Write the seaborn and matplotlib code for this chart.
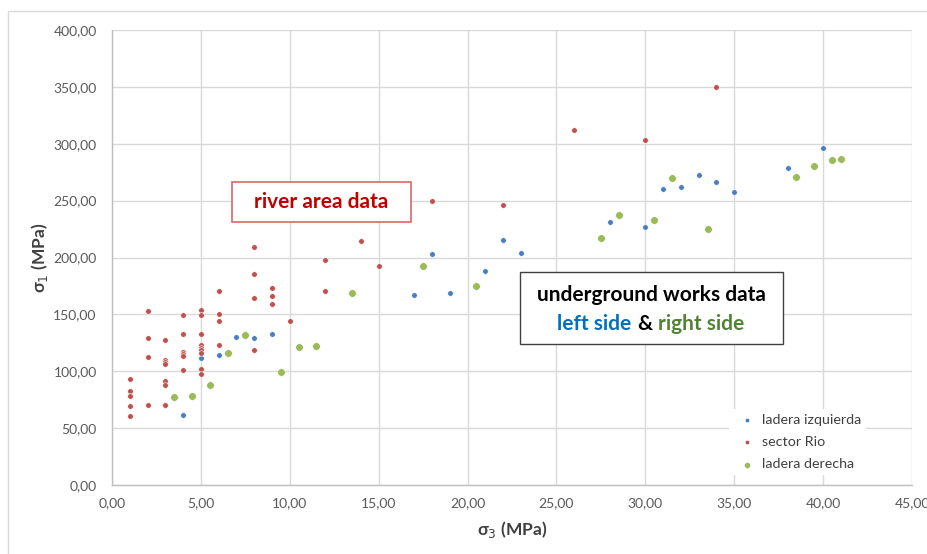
import matplotlib
matplotlib.use("Agg")
import matplotlib.pyplot as plt
import matplotlib.ticker as mticker
from matplotlib.patches import Rectangle
import numpy as np
import pandas as pd
import seaborn as sns

# ---------------- data ----------------
izq_s3 = [4.0, 5.0, 6.0, 7.0, 8.0, 9.0, 17.0, 18.0, 19.0, 21.0, 22.0, 23.0,
          28.0, 30.0, 31.0, 32.0, 33.0, 34.0, 35.0, 38.0, 40.0]
izq_s1 = [61.5, 111.4, 114.6, 130.4, 129.5, 132.7, 166.8, 202.8, 168.8, 187.9, 215.4, 204.0,
          231.2, 227.1, 260.0, 262.0, 272.5, 266.4, 257.9, 279.0, 296.0]

rio_s3 = [1.0, 1.0, 1.0, 1.0, 1.0,
          2.0, 2.0, 2.0, 2.0,
          3.0, 3.0, 3.0, 3.0, 3.0, 3.0, 3.0, 3.0,
          4.0, 4.0, 4.0, 4.0, 4.0, 4.0,
          5.0, 5.0, 5.0, 5.0, 5.0, 5.0, 5.0, 5.0, 5.0,
          6.0, 6.0, 6.0, 6.0,
          8.0, 8.0, 8.0, 8.0,
          9.0, 9.0, 9.0, 10.0,
          12.0, 12.0, 14.0, 15.0, 18.0, 22.0, 26.0, 30.0, 34.0]
rio_s1 = [93.5, 82.9, 78.5, 69.2, 60.7,
          152.7, 129.5, 112.5, 70.0,
          127.5, 110.0, 108.0, 106.6, 91.4, 87.9, 70.0, 70.0,
          149.7, 132.7, 117.0, 115.0, 113.7, 101.0,
          153.8, 149.5, 132.7, 122.8, 120.4, 118.4, 116.0, 102.3, 97.9,
          170.8, 150.6, 144.2, 123.0,
          209.0, 185.5, 164.4, 119.0,
          173.0, 166.4, 159.0, 144.2,
          197.5, 170.8, 214.2, 192.3, 249.4, 246.2, 311.8, 303.3, 350.2]

der_s3 = [3.5, 4.5, 5.5, 6.5, 7.5, 9.5, 10.5, 11.5, 13.5, 17.5, 20.5,
          27.5, 28.5, 30.5, 31.5, 33.5, 38.5, 39.5, 40.5, 41.0]
der_s1 = [77.1, 78.2, 87.6, 116.3, 132.2, 99.3, 121.3, 122.5, 169.0, 192.5, 174.7,
          216.9, 237.1, 232.7, 269.9, 225.3, 270.5, 280.4, 285.7, 286.9]

series_names = ["ladera izquierda", "sector Rio", "ladera derecha"]
x_ticks = [0, 5, 10, 15, 20, 25, 30, 35, 40, 45]
y_ticks = [0, 50, 100, 150, 200, 250, 300, 350, 400]

df = pd.DataFrame({
    "s3": izq_s3 + rio_s3 + der_s3,
    "s1": izq_s1 + rio_s1 + der_s1,
    "serie": [series_names[0]] * len(izq_s3) + [series_names[1]] * len(rio_s3)
             + [series_names[2]] * len(der_s3),
})

# ---------------- styling ----------------
sns.set_theme(style="white")
plt.rcParams["font.family"] = ["Lato", "DejaVu Sans"]

blue = "#4A7EBF"
red = "#C0504D"
green = "#9BBB59"
palette = {series_names[0]: blue, series_names[1]: red, series_names[2]: green}
sizes = {series_names[0]: 16, series_names[1]: 16, series_names[2]: 30}

W, H = 928, 554
fig = plt.figure(figsize=(W / 100, H / 100), dpi=100)
ax = fig.add_axes([112 / W, 1 - 485 / H, (912 - 112) / W, (485 - 30) / H])

# outer chart frame
fig.patches.append(Rectangle((8 / W, -0.02), 1.05, 1 - 11 / H + 0.02, transform=fig.transFigure,
                             fill=False, edgecolor="#D9D9D9", linewidth=1.0, zorder=0))

for name in series_names:
    sub = df[df["serie"] == name]
    sns.scatterplot(data=sub, x="s3", y="s1", color=palette[name], s=sizes[name],
                    edgecolor="white", linewidth=0.4, ax=ax, label=name, zorder=3)

ax.set_xlim(0, 45)
ax.set_ylim(0, 400)
ax.set_xticks(x_ticks)
ax.set_yticks(y_ticks)
fmt = mticker.FuncFormatter(lambda v, p: f"{v:.2f}".replace(".", ","))
ax.xaxis.set_major_formatter(fmt)
ax.yaxis.set_major_formatter(fmt)
ax.tick_params(axis="both", labelsize=10, colors="#595959", length=0)
ax.tick_params(axis="y", pad=11)
ax.tick_params(axis="x", pad=9)
ax.grid(True, color="#D9D9D9", linewidth=1.0)
ax.set_axisbelow(True)
for side in ["top", "right"]:
    ax.spines[side].set_visible(False)
for side in ["left", "bottom"]:
    ax.spines[side].set_color("#BFBFBF")
    ax.spines[side].set_linewidth(1.0)

ax.set_xlabel("σ$_3$ (MPa)", fontsize=12.5, fontweight="bold", color="#404040")
ax.set_ylabel("σ$_1$ (MPa)", fontsize=12.5, fontweight="bold", color="#404040")
ax.xaxis.set_label_coords(0.5, (485 - 519) / 455)
ax.yaxis.set_label_coords((50 - 112) / 800, 0.5)

leg = ax.legend(loc="upper left", bbox_to_anchor=(0.762, 0.182), frameon=True,
                facecolor="white", edgecolor="none", fontsize=10.3, handletextpad=0.05,
                labelspacing=0.72, markerscale=0.8, borderpad=0.3, framealpha=1)
for t in leg.get_texts():
    t.set_color("#404040")

# ---------------- annotation boxes ----------------
box1 = Rectangle((6.74, 231.2), 10.06, 35.2, facecolor="white", edgecolor="#E06666",
                 linewidth=1.2, zorder=5)
ax.add_patch(box1)
ax.text(11.77, 248.5, "river area data", ha="center", va="center", fontsize=15,
        fontweight="bold", color="#C00000", zorder=6)

box2 = Rectangle((22.96, 124.2), 14.79, 63.1, facecolor="white", edgecolor="#404040",
                 linewidth=1.0, zorder=5)
ax.add_patch(box2)
ax.text(30.35, 167.0, "underground works data", ha="center", va="center", fontsize=15,
        fontweight="bold", color="black", zorder=6)
ax.text(29.97, 141.8, "&", ha="center", va="center", fontsize=15, fontweight="bold",
        color="black", zorder=6)
ax.text(29.2, 141.8, "left side", ha="right", va="center", fontsize=15, fontweight="bold",
        color="#0070C0", zorder=6)
ax.text(30.73, 141.8, "right side", ha="left", va="center", fontsize=15, fontweight="bold",
        color="#548235", zorder=6)

fig.savefig("out.png", dpi=100)
